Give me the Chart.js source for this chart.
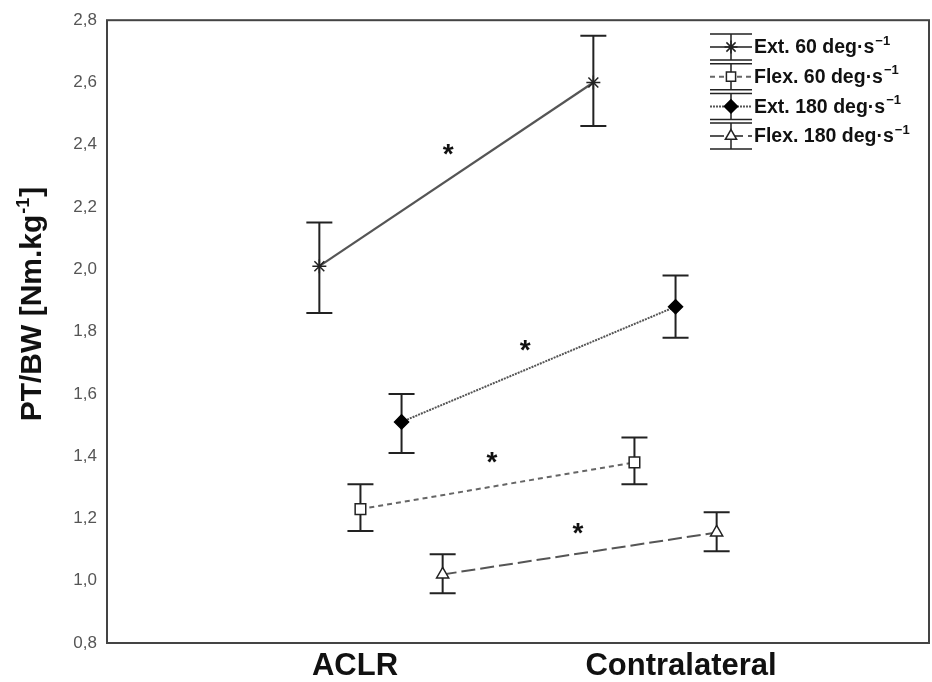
<!DOCTYPE html>
<html>
<head>
<meta charset="utf-8">
<script src="https://cdn.jsdelivr.net/npm/chart.js@4.4.1/dist/chart.umd.min.js"></script>
<style>
  html, body { margin: 0; padding: 0; background: #fff; }
</style>
</head>
<body>
<canvas id="graficoTorque" width="932" height="682"></canvas>
<script>
// categorias del eje x y donde van sus etiquetas
const categorias = ['ACLR', 'Contralateral'];
const posCategorias = [1, 2];
const posEtiquetas = [0.905, 2.095];

// series (leyenda)
const nombres = ['Ext. 60 deg·s', 'Flex. 60 deg·s', 'Ext. 180 deg·s', 'Flex. 180 deg·s'];
const desplazamientos = [-0.225, -0.075, 0.075, 0.225];

// medias y limites de las barras de error [ACLR, Contralateral]
const ext60 = [2.01, 2.60];
const ext60Sup = [2.15, 2.75];
const ext60Inf = [1.86, 2.46];

const flex60 = [1.23, 1.38];
const flex60Sup = [1.31, 1.46];
const flex60Inf = [1.16, 1.31];

const ext180 = [1.51, 1.88];
const ext180Sup = [1.60, 1.98];
const ext180Inf = [1.41, 1.78];

const flex180 = [1.02, 1.155];
const flex180Sup = [1.085, 1.22];
const flex180Inf = [0.96, 1.095];

const ticksY = [0.8, 1.0, 1.2, 1.4, 1.6, 1.8, 2.0, 2.2, 2.4, 2.6, 2.8];
const tituloY = 'PT/BW [Nm.kg';

// asteriscos de significancia [x, y]
const asteriscos = [[1.245, 2.392], [1.526, 1.763], [1.405, 1.404], [1.719, 1.176]];

const medias = [ext60, flex60, ext180, flex180];
const superiores = [ext60Sup, flex60Sup, ext180Sup, flex180Sup];
const inferiores = [ext60Inf, flex60Inf, ext180Inf, flex180Inf];

const estilos = [
    { pointStyle: 'star', pointRadius: 7, pointBackgroundColor: '#222', pointBorderColor: '#222', borderColor: '#555', borderDash: [], borderWidth: 2.2 },
    { pointStyle: 'rect', pointRadius: 7.5, pointBackgroundColor: '#fff', pointBorderColor: '#222', borderColor: '#666', borderDash: [5, 4], borderWidth: 2 },
    { pointStyle: 'rectRot', pointRadius: 7, pointBackgroundColor: '#000', pointBorderColor: '#000', borderColor: '#555', borderDash: [2, 1], borderWidth: 2 },
    { pointStyle: 'triangle', pointRadius: 7, pointBackgroundColor: '#fff', pointBorderColor: '#222', borderColor: '#555', borderDash: [14, 5], borderWidth: 2 }
];

const datasets = nombres.map((nombre, k) => Object.assign({
    label: nombre,
    data: posCategorias.map((c, i) => ({
        x: c + desplazamientos[k],
        y: medias[k][i],
        sup: superiores[k][i],
        inf: inferiores[k][i]
    })),
    pointBorderWidth: 1.5,
    fill: false,
    tension: 0,
    clip: false
}, estilos[k]));

const barrasError = {
    id: 'barrasError',
    beforeDatasetsDraw(chart) {
        const { ctx, scales: { x, y } } = chart;
        ctx.save();
        ctx.strokeStyle = '#222';
        ctx.lineWidth = 2;
        chart.data.datasets.forEach(ds => {
            ds.data.forEach(p => {
                const px = x.getPixelForValue(p.x);
                const pt = y.getPixelForValue(p.sup);
                const pb = y.getPixelForValue(p.inf);
                ctx.beginPath();
                ctx.moveTo(px, pt); ctx.lineTo(px, pb);
                ctx.moveTo(px - 13, pt); ctx.lineTo(px + 13, pt);
                ctx.moveTo(px - 13, pb); ctx.lineTo(px + 13, pb);
                ctx.stroke();
            });
        });
        ctx.restore();
    }
};

const extras = {
    id: 'extras',
    afterDraw(chart) {
        const { ctx, chartArea: a, scales: { x, y } } = chart;
        ctx.save();
        // marco
        ctx.strokeStyle = '#444';
        ctx.lineWidth = 2;
        ctx.strokeRect(a.left, a.top, a.right - a.left, a.bottom - a.top);

        // titulo del eje y
        ctx.save();
        ctx.translate(31, 305);
        ctx.rotate(-Math.PI / 2);
        ctx.fillStyle = '#111';
        ctx.textBaseline = 'middle';
        ctx.textAlign = 'left';
        ctx.font = 'bold 30px "Liberation Sans", Arial, sans-serif';
        const wt = ctx.measureText(tituloY).width;
        ctx.font = 'bold 18px "Liberation Sans", Arial, sans-serif';
        const ws = ctx.measureText('-1').width;
        const ini = -(wt + ws + 10) / 2;
        ctx.font = 'bold 30px "Liberation Sans", Arial, sans-serif';
        ctx.fillText(tituloY, ini, 2);
        ctx.font = 'bold 18px "Liberation Sans", Arial, sans-serif';
        ctx.fillText('-1', ini + wt + 1, -7);
        ctx.font = 'bold 30px "Liberation Sans", Arial, sans-serif';
        ctx.fillText(']', ini + wt + ws + 2, 2);
        ctx.restore();

        // asteriscos
        ctx.fillStyle = '#111';
        ctx.font = 'bold 28px "Liberation Sans", Arial, sans-serif';
        ctx.textAlign = 'center';
        ctx.textBaseline = 'alphabetic';
        asteriscos.forEach(([ax, ay]) => {
            ctx.fillText('*', x.getPixelForValue(ax), y.getPixelForValue(ay) + 16);
        });

        // leyenda
        const lx = 731;
        chart.data.datasets.forEach((ds, i) => {
            const ly = 47 + i * 29.7;
            ctx.strokeStyle = '#222';
            ctx.lineWidth = 1.5;
            ctx.setLineDash([]);
            ctx.beginPath();
            ctx.moveTo(lx, ly - 13); ctx.lineTo(lx, ly + 13);
            ctx.moveTo(710, ly - 13); ctx.lineTo(752, ly - 13);
            ctx.moveTo(710, ly + 13); ctx.lineTo(752, ly + 13);
            ctx.stroke();
            ctx.strokeStyle = ds.borderColor;
            ctx.lineWidth = ds.borderWidth;
            ctx.setLineDash(ds.borderDash);
            ctx.beginPath();
            ctx.moveTo(710, ly); ctx.lineTo(752, ly);
            ctx.stroke();
            ctx.setLineDash([]);
            ctx.fillStyle = ds.pointBackgroundColor;
            ctx.strokeStyle = ds.pointBorderColor;
            ctx.lineWidth = 1.5;
            Chart.helpers.drawPoint(ctx, { pointStyle: ds.pointStyle, radius: 6.5, borderWidth: 1.5, rotation: 0 }, lx, ly);

            ctx.fillStyle = '#111';
            ctx.textAlign = 'left';
            ctx.textBaseline = 'middle';
            ctx.font = 'bold 19.5px "Liberation Sans", Arial, sans-serif';
            ctx.fillText(ds.label, 754, ly + 1);
            const w = ctx.measureText(ds.label).width;
            ctx.font = 'bold 13px "Liberation Sans", Arial, sans-serif';
            ctx.fillText('\u22121', 754 + w + 1, ly - 6);
        });
        ctx.restore();
    }
};

const ctx = document.getElementById('graficoTorque').getContext('2d');
new Chart(ctx, {
    type: 'line',
    data: { datasets: datasets },
    options: {
        responsive: false,
        animation: false,
        devicePixelRatio: 1,
        layout: { autoPadding: false, padding: { top: 20, right: 3, left: 0, bottom: 0 } },
        plugins: {
            legend: { display: false },
            tooltip: { enabled: false }
        },
        scales: {
            x: {
                type: 'linear',
                min: 0,
                max: 3,
                grid: { display: false, drawTicks: false },
                border: { display: false },
                afterBuildTicks: axis => { axis.ticks = posEtiquetas.map(v => ({ value: v })); },
                afterFit: axis => { axis.height = 39; },
                ticks: {
                    autoSkip: false,
                    maxRotation: 0,
                    padding: 5,
                    color: '#111',
                    font: { family: '"Liberation Sans", Arial, sans-serif', size: 31, weight: 'bold' },
                    callback: (v, i) => categorias[i]
                }
            },
            y: {
                min: 0.8,
                max: 2.8,
                grid: { display: false, drawTicks: false },
                border: { display: false },
                afterBuildTicks: axis => { axis.ticks = ticksY.map(v => ({ value: v })); },
                afterFit: axis => { axis.width = 107; },
                ticks: {
                    padding: 10,
                    color: '#555',
                    font: { family: '"Liberation Sans", Arial, sans-serif', size: 17 },
                    callback: v => v.toFixed(1).replace('.', ',')
                }
            }
        }
    },
    plugins: [barrasError, extras]
});
</script>
</body>
</html>
